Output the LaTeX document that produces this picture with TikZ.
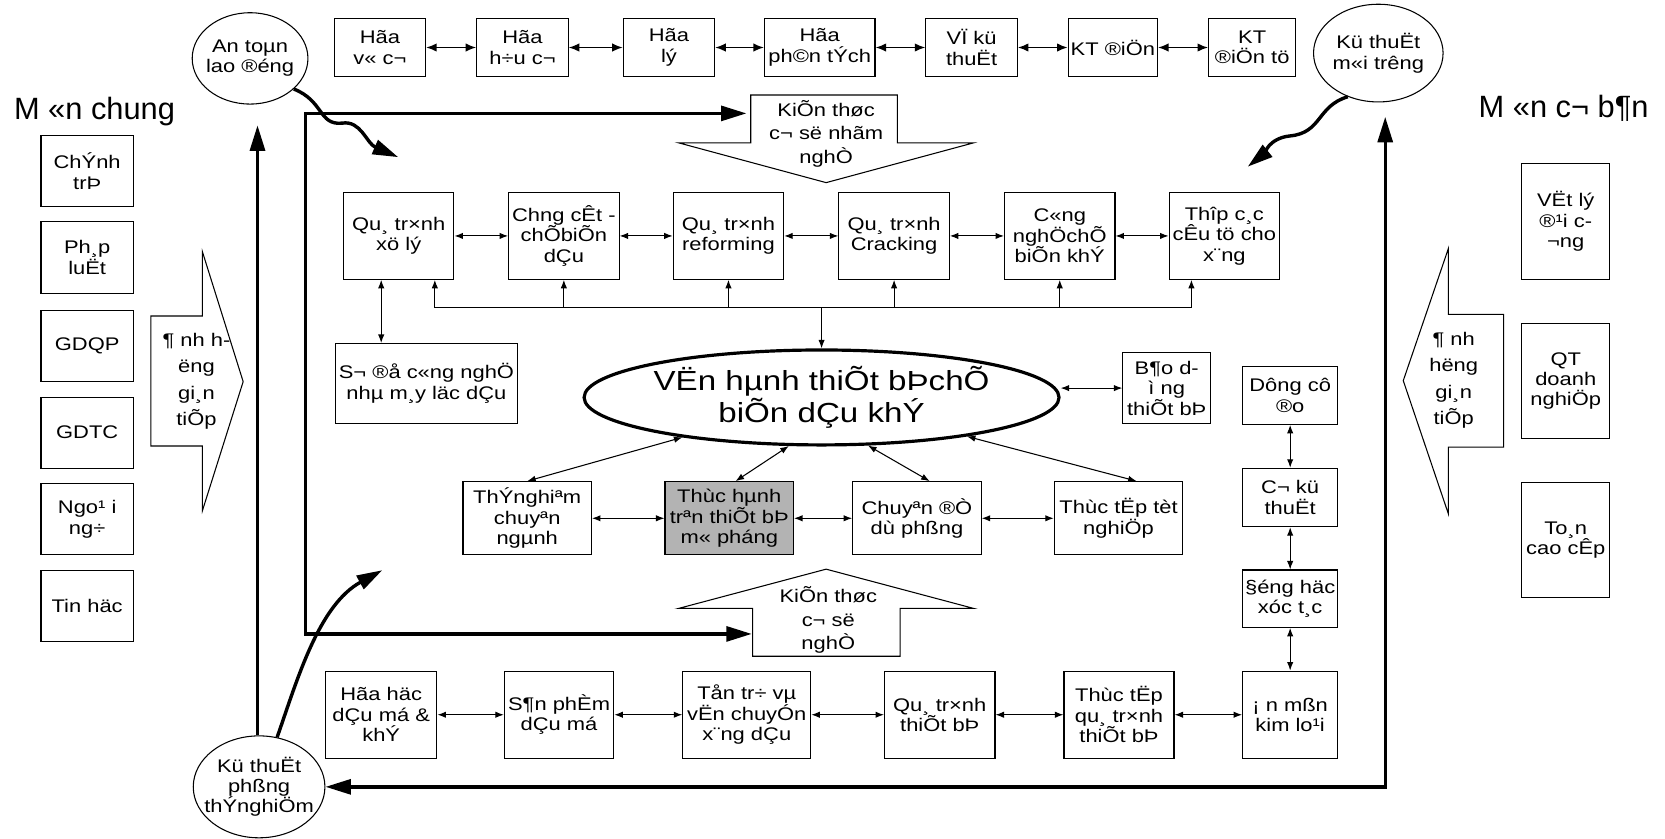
\documentclass[tikz,border=0pt]{standalone}
\usepackage{fontspec}
\setmainfont{Liberation Sans}[FakeStretch=1.2]
\newfontfamily\titlefont{Liberation Sans}
\usetikzlibrary{arrows.meta,positioning,shapes,calc}
\definecolor{boxgray}{RGB}{179,179,179}

\begin{document}
\begin{tikzpicture}[x=0.5pt,y=-0.5pt,
    font=\fontsize{8.6}{9.6}\selectfont,
    box/.style={draw, line width=0.5pt, align=center, inner sep=0.5pt},
    toprow/.style={box, minimum width=43pt, minimum height=27.5pt},
    sidel/.style={box, minimum width=43.5pt, minimum height=33.5pt},
    sider/.style={box, minimum width=41.5pt, minimum height=54.5pt},
    midrow/.style={box, minimum width=52pt, minimum height=40.8pt},
    lowrow/.style={box, minimum width=60.5pt, minimum height=34.5pt},
    botrow/.style={box, minimum height=41pt},
    rcol/.style={box, minimum width=44.75pt},
    oval/.style={draw, ellipse, line width=0.5pt, align=center, inner xsep=-6pt, inner ysep=-4pt},
    title/.style={inner sep=0pt, font=\titlefont\fontsize{14.5}{16}\selectfont},
    lbl/.style={align=center, inner sep=0pt},
    blk/.style={draw, line width=0.5pt},
    dbl/.style={{Latex[length=4pt,width=3pt]}-{Latex[length=4pt,width=3pt]}, line width=0.5pt},
    one/.style={-{Latex[length=4pt,width=3pt]}, line width=0.5pt},
    topdbl/.style={{Latex[length=5pt,width=4pt]}-{Latex[length=5pt,width=4pt]}, line width=0.8pt},
    thk/.style={line width=1.6pt, -{Triangle[length=12pt,width=7pt]}},
    thkdbl/.style={line width=1.6pt, {Triangle[length=12pt,width=7pt]}-{Triangle[length=12pt,width=7pt]}}]
\fill[white] (0,0) rectangle (1568,790);
\useasboundingbox (0,0) rectangle (1568,790);

% titles and circles
\node[title] (mc) at (89,105) {M «n chung};
\node[title] (mcb) at (1472.5,102) {M «n c¬ b¶n};
\node[oval, minimum width=54.5pt, minimum height=43pt] (atld) at (235.5,55) {An toµn\\lao ®éng};
\node[oval, minimum width=61pt, minimum height=46pt] (ktmt) at (1298,50) {Kü thuËt\\m«i trêng};
\node[oval, minimum width=62pt, minimum height=48pt] (ktptn) at (244,741) {Kü thuËt\\phßng\\thÝnghiÖm};

% top row
\node[toprow] (hvc) at (357.75,44.75) {Hãa\\v« c¬};
\node[toprow] (hhc) at (492,44.75) {Hãa\\h÷u c¬};
\node[toprow] (hl) at (630,44.75) {Hãa\\lý};
\node[toprow, minimum width=52pt] (hpt) at (772,44.75) {Hãa\\ph©n tÝch};
\node[toprow] (vkt) at (915,44.75) {VÏ kü\\thuËt};
\node[toprow, minimum width=42pt] (ktd) at (1048,44.75) {KT ®iÖn};
\node[toprow, minimum width=41pt] (ktdt) at (1179.25,44.75) {KT\\®iÖn tö};
\foreach \a/\b in {hvc/hhc,hhc/hl,hl/hpt,hpt/vkt,vkt/ktd,ktd/ktdt}
  \draw[topdbl] (\a) -- (\b);

% left column
\node[sidel] (ct) at (82.1,161.1) {ChÝnh\\trÞ};
\node[sidel] (pl) at (82.1,242.5) {Ph¸p\\luËt};
\node[sidel] (gdqp) at (82.1,325.5) {GDQP};
\node[sidel] (gdtc) at (82.1,407.5) {GDTC};
\node[sidel] (nn) at (82.1,489) {Ngo¹ i\\ng÷};
\node[sidel] (th) at (82.1,571) {Tin häc};
\draw[blk] (142,297.6) -- (190.6,297.6) -- (190.6,237) -- (229,359.4) -- (190.6,481)
  -- (190.6,420) -- (142,420) -- cycle;
\node[lbl, font=\fontsize{8.6}{12.5}\selectfont] (ahl) at (185,359) {¶ nh h-\\ëng\\gi¸n\\tiÕp};

% right column
\node[sider] (vldc) at (1474.5,208.5) {VËt lý\\®¹i c-\\¬ng};
\node[sider] (qtdn) at (1474.5,358.75) {QT\\doanh\\nghiÖp};
\node[sider] (tcc) at (1474.5,508.5) {To¸n\\cao cÊp};
\draw[blk] (1416,296) -- (1364,296) -- (1364,234) -- (1321.5,358.5) -- (1364,484)
  -- (1364,421) -- (1416,421) -- cycle;
\node[lbl, font=\fontsize{8.6}{12.5}\selectfont] (ahr) at (1369,358) {¶ nh\\hëng\\gi¸n\\tiÕp};

% knowledge arrows
\draw[blk] (707,89.5) -- (845,89.5) -- (845,134.5) -- (917,134.5) -- (778,172)
  -- (639,134.5) -- (707,134.5) -- cycle;
\node[lbl, font=\fontsize{8.6}{11}\selectfont] (kttop) at (778,126) {KiÕn thøc\\c¬ së nhãm\\nghÒ};
\draw[blk] (778,536) -- (917,573) -- (847.6,573) -- (847.6,618) -- (708.8,618)
  -- (708.8,573) -- (639,573) -- cycle;
\node[lbl, font=\fontsize{8.6}{11}\selectfont] (ktbot) at (780,584) {KiÕn thøc\\c¬ së\\nghÒ};

% middle row
\node[midrow] (qtxl) at (375.5,222.2) {Qu¸ tr×nh\\xö lý};
\node[midrow] (ccd) at (531,222.2) {Chng cÊt -\\chÕbiÕn\\dÇu};
\node[midrow] (qtrf) at (686,222.2) {Qu¸ tr×nh\\reforming};
\node[midrow] (qtcr) at (842,222.2) {Qu¸ tr×nh\\Cracking};
\node[midrow] (cncb) at (998,222.2) {C«ng\\nghÖchÕ\\biÕn khÝ};
\node[midrow] (tpct) at (1153,222.2) {Thîp c¸c\\cÊu tö cho\\x¨ng};
\foreach \a/\b in {qtxl/ccd,ccd/qtrf,qtrf/qtcr,qtcr/cncb,cncb/tpct}
  \draw[dbl] (\a) -- (\b);

% bus under the middle row
\coordinate (b1) at (409.5,290);
\coordinate (b2) at (1122,290);
\coordinate (bc) at (773.7,290);
\draw[line width=0.5pt] (b1) -- (b2);
\draw[one] (b1) -- (b1 |- qtxl.south);
\draw[one] (b2) -- (b2 |- tpct.south);
\foreach \n in {ccd,qtrf,qtcr,cncb}
  \draw[one] (\n.south |- b1) -- (\n.south);

% centre
\node[box, minimum width=86pt, minimum height=37.5pt] (sdcn) at (401.6,361) {S¬ ®å c«ng nghÖ\\nhµ m¸y läc dÇu};
\coordinate (vx) at (359,0);
\draw[dbl] (qtxl.south -| vx) -- (sdcn.north -| vx);
\node[draw, ellipse, align=center, inner sep=0pt, line width=1.5pt, minimum width=216.75pt,
  minimum height=44.7pt, font=\fontsize{13}{13.5}\selectfont] (vhtb) at (773.7,374.3)
  {VËn hµnh thiÕt bÞchÕ\\biÕn dÇu khÝ};
\draw[one] (bc) -- (vhtb.north);
\node[box, minimum width=41.25pt, minimum height=33.5pt] (bdtb) at (1098.75,365.5) {B¶o d-\\ì ng\\thiÕt bÞ};
\draw[dbl] (vhtb.east |- bdtb.west) -- (bdtb.west);

% lower row
\node[lowrow] (tncn) at (496.5,488.1) {ThÝnghiªm\\chuyªn\\ngµnh};
\node[lowrow, fill=boxgray] (thtb) at (686.75,488.1) {Thùc hµnh\\trªn thiÕt bÞ\\m« pháng};
\node[lowrow] (cddp) at (863.5,488.1) {Chuyªn ®Ò\\dù phßng};
\node[lowrow] (tttn) at (1053.4,488.1) {Thùc tËp tèt\\nghiÖp};
\foreach \a/\b in {tncn/thtb,thtb/cddp,cddp/tttn}
  \draw[dbl] (\a) -- (\b);
\draw[dbl] (vhtb.196) -- (tncn.north);
\draw[dbl] (vhtb.236) -- ($(thtb.north)+(6,0)$);
\draw[dbl] (vhtb.314) -- ($(cddp.north)+(12,0)$);
\draw[dbl] (vhtb.345) -- ($(tttn.north)+(17,0)$);

% right column of the centre
\node[rcol, minimum height=27.3pt] (dcd) at (1215,372.3) {Dông cô\\®o};
\node[rcol, minimum height=27.5pt] (ckt) at (1215,468.5) {C¬ kü\\thuËt};
\node[rcol, minimum height=27pt] (dhxt) at (1215,563.8) {§éng häc\\xóc t¸c};
\node[rcol, minimum height=41.1pt] (anm) at (1215,673.1) {¡ n mßn\\kim lo¹i};
\foreach \a/\b in {dcd/ckt,ckt/dhxt,dhxt/anm}
  \draw[dbl] (\a) -- (\b);

% bottom row
\node[botrow, minimum width=52.5pt] (hhdm) at (359,673.1) {Hãa häc\\dÇu má \&\\khÝ};
\node[botrow, minimum width=51.5pt] (spdm) at (526.5,673.1) {S¶n phÈm\\dÇu má};
\node[botrow, minimum width=60.25pt] (ttvc) at (703.25,673.1) {Tån tr÷ vµ\\vËn chuyÓn\\x¨ng dÇu};
\node[botrow, minimum width=52pt] (qttb) at (885,673.1) {Qu¸ tr×nh\\thiÕt bÞ};
\node[botrow, minimum width=51.8pt] (ttqt) at (1053.8,673.1) {Thùc tËp\\qu¸ tr×nh\\thiÕt bÞ};
\foreach \a/\b in {hhdm/spdm,spdm/ttvc,ttvc/qttb,qttb/ttqt,ttqt/anm}
  \draw[dbl] (\a) -- (\b);

% thick frame and loop
\coordinate (knT) at (703,106.8);
\coordinate (frC) at (287.5,597);
\coordinate (knB) at (708,597);
\draw[thkdbl] (knT) -| (frC) -- (knB);
\coordinate (tipL) at (242.5,118);
\draw[thk] (tipL |- ktptn.north) -- (tipL);
\coordinate (crn) at (1304.5,741);
\coordinate (tipR) at (1304.5,110);
\draw[thkdbl] (ktptn.east) -- (crn) -- (tipR);

% wavy links
\draw[thk] (atld.-35) .. controls (305,95) and (300,118) .. (322,116)
  .. controls (340,113) and (345,135) .. (375,148);
\draw[thk] (ktmt.235) .. controls (1240,100) and (1245,125) .. (1215,128)
  .. controls (1195,130) and (1190,145) .. (1175,157);
\draw[thk] (ktptn.70) .. controls (280,640) and (300,570) .. (360,537);
\end{tikzpicture}
\end{document}
